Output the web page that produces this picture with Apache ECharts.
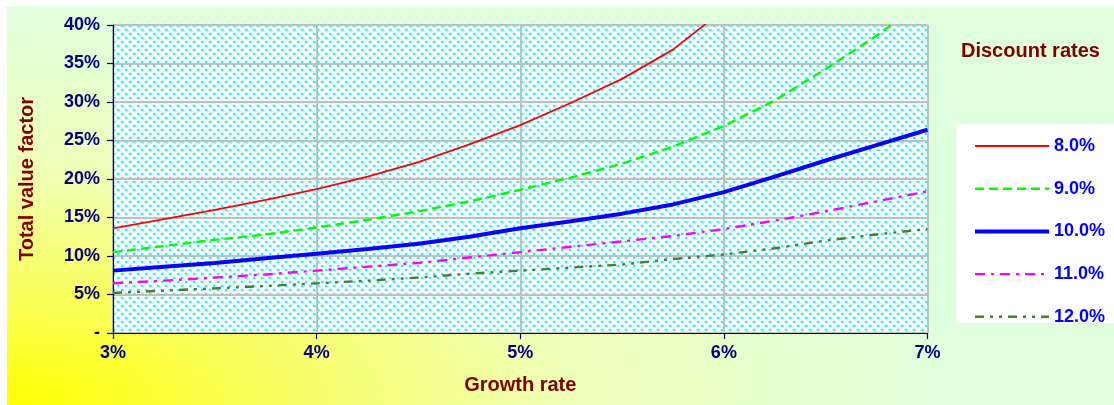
<!DOCTYPE html>
<html>
<head>
<meta charset="utf-8">
<script src="https://cdn.jsdelivr.net/npm/echarts@6/dist/echarts.min.js"></script>
<style>
  html, body { margin: 0; padding: 0; background: #ffffff; }
  #chart { width: 1114px; height: 405px; }
</style>
</head>
<body>
<div id="chart"></div>
<script>
// Growth rates (%) along the x axis
const growth = [3, 3.25, 3.5, 3.75, 4, 4.25, 4.5, 4.75, 5, 5.25, 5.5, 5.75, 6, 6.25, 6.5, 6.75, 7];

// Total value factor (%) for each discount rate
const rate8  = [13.6, 14.8, 16.0, 17.3, 18.7, 20.3, 22.2, 24.5, 27.0, 29.9, 33.0, 36.8, 42.0, null, null, null, null];
const rate9  = [10.5, 11.3, 12.1, 12.8, 13.7, 14.7, 15.8, 17.1, 18.6, 20.2, 22.0, 24.2, 26.9, 30.2, 34.3, 38.6, 43.5];
const rate10 = [8.1, 8.6, 9.1, 9.7, 10.3, 10.9, 11.6, 12.5, 13.6, 14.5, 15.5, 16.7, 18.3, 20.3, 22.4, 24.4, 26.4];
const rate11 = [6.45, 6.8, 7.2, 7.6, 8.1, 8.6, 9.1, 9.8, 10.5, 11.2, 11.9, 12.6, 13.5, 14.6, 15.8, 17.1, 18.4];
const rate12 = [5.2, 5.5, 5.8, 6.1, 6.45, 6.8, 7.2, 7.7, 8.1, 8.5, 8.9, 9.6, 10.2, 11.0, 12.0, 12.8, 13.5];

const seriesNames = ['8.0%', '9.0%', '10.0%', '11.0%', '12.0%'];
const yTicks = [0, 5, 10, 15, 20, 25, 30, 35, 40];
const xTicks = [3, 4, 5, 6, 7];

const FONT = '"Liberation Sans", Arial, sans-serif';

// Dotted fill for the plotting area: white tile with staggered cyan dots
function dotTile() {
  const c = document.createElement('canvas');
  c.width = 8; c.height = 8;
  const g = c.getContext('2d');
  g.fillStyle = '#ffffff';
  g.fillRect(0, 0, 8, 8);
  [[1, 1], [5, 5]].forEach(([x, y]) => {
    g.fillStyle = 'rgba(0,255,255,0.18)';
    g.fillRect(x - 1, y, 4, 2);
    g.fillRect(x, y - 1, 2, 4);
    g.fillStyle = 'rgba(0,245,255,0.85)';
    g.fillRect(x, y, 2, 2);
  });
  return c;
}

const chart = echarts.init(document.getElementById('chart'), null, { renderer: 'canvas' });

const pairs = vals => growth.map((g, i) => [g, vals[i]]);

const lineDefs = [
  { data: rate8,  color: '#ff0000', width: 1.8, type: 'solid' },
  { data: rate9,  color: '#00ff00', width: 2.4, type: [9, 5] },
  { data: rate10, color: '#0000ff', width: 4,   type: 'solid' },
  { data: rate11, color: '#ff00ff', width: 2.4, type: [10, 6, 3, 6] },
  { data: rate12, color: '#4a7d2e', width: 2.4, type: [9, 6, 3, 6, 3, 6] }
];

const option = {
  animation: false,
  graphic: [
    {
      // chart-area backdrop: yellow glow from the lower left fading to pale green
      type: 'rect',
      z: -100,
      x: 7, y: 6,
      scaleX: 2.35,
      shape: { x: 0, y: 0, width: 1107 / 2.35, height: 399 },
      style: {
        fill: {
          type: 'radial', x: 0, y: 1, r: 1,
          colorStops: [
            { offset: 0, color: '#ffff00' },
            { offset: 0.25, color: '#fbff55' },
            { offset: 0.6, color: '#eeffb8' },
            { offset: 1, color: '#e0ffdc' }
          ]
        }
      },
      silent: true
    },
    {
      type: 'rect',
      z: -50,
      shape: { x: 956, y: 124, width: 158, height: 199 },
      style: { fill: '#ffffff' },
      silent: true
    },
    {
      type: 'text',
      x: 961, y: 51,
      style: {
        text: 'Discount rates',
        fill: '#800000',
        font: 'bold 20px ' + FONT,
        verticalAlign: 'middle'
      }
    }
  ],
  grid: {
    left: 113, top: 25, right: 186.5, bottom: 72,
    show: true,
    borderWidth: 0,
    backgroundColor: { image: dotTile(), repeat: 'repeat' }
  },
  legend: {
    orient: 'vertical',
    left: 973, top: 137,
    itemWidth: 74, itemHeight: 14,
    itemGap: 24.7,
    padding: 0,
    itemStyle: { opacity: 0 },
    data: seriesNames.map((n, i) => ({
      name: n,
      lineStyle: { width: lineDefs[i].width, type: lineDefs[i].type, color: lineDefs[i].color }
    })),
    textStyle: { color: '#0000ff', fontWeight: 'bold', fontSize: 18, fontFamily: FONT, padding: [0, 0, 0, 0] }
  },
  xAxis: {
    type: 'value',
    min: 3, max: 7, interval: 1,
    name: 'Growth rate',
    nameLocation: 'middle',
    nameGap: 42,
    nameTextStyle: { color: '#800000', fontWeight: 'bold', fontSize: 20, fontFamily: FONT },
    axisLine: { show: true, lineStyle: { color: '#000080', width: 1.2 } },
    axisTick: { show: true, length: 6, lineStyle: { color: '#000080', width: 1.2 } },
    axisLabel: {
      color: '#000080', fontWeight: 'bold', fontSize: 18, fontFamily: FONT, margin: 11,
      formatter: v => xTicks.includes(v) ? v + '%' : ''
    },
    splitLine: { show: true, lineStyle: { color: '#c0c0c0', width: 2 } }
  },
  yAxis: {
    type: 'value',
    min: 0, max: 40, interval: 5,
    name: 'Total value factor',
    nameLocation: 'middle',
    nameGap: 76,
    nameRotate: 90,
    nameTextStyle: { color: '#800000', fontWeight: 'bold', fontSize: 20, fontFamily: FONT },
    axisLine: { show: true, lineStyle: { color: '#000080', width: 1.2 } },
    axisTick: { show: true, length: 6, lineStyle: { color: '#000080', width: 1.2 } },
    axisLabel: {
      color: '#000080', fontWeight: 'bold', fontSize: 18, fontFamily: FONT, margin: 13,
      formatter: v => yTicks.includes(v) ? (v === 0 ? '-' : v + '%') : ''
    },
    splitLine: { show: true, lineStyle: { color: '#c0c0c0', width: 2 } }
  },
  series: lineDefs.map((d, i) => ({
    name: seriesNames[i],
    type: 'line',
    data: pairs(d.data),
    symbol: 'none',
    clip: true,
    smooth: false,
    color: d.color,
    lineStyle: { color: d.color, width: d.width, type: d.type },
    z: 10 - i
  }))
};

chart.setOption(option);
</script>
</body>
</html>
